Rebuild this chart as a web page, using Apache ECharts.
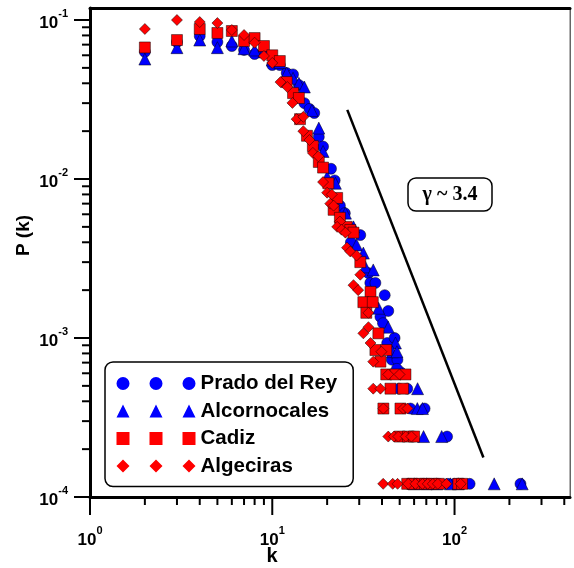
<!DOCTYPE html>
<html>
<head>
<meta charset="utf-8">
<script src="https://cdn.jsdelivr.net/npm/echarts@6/dist/echarts.min.js"></script>
<style>
  html, body { margin: 0; padding: 0; background: #fff; }
  #chart { width: 574px; height: 568px; }
</style>
</head>
<body>
<div id="chart"></div>
<script>
// degree k and P(k) per town
const pradoK = [2, 3, 4, 5, 6, 7, 8, 9, 10, 11, 12, 13, 14, 15, 16, 17, 18, 19, 21, 22, 23.5, 25, 27, 30.4, 33.7, 34.5, 36.8, 39.2, 40.5, 41.4, 43.3, 42.7, 46.9, 45.3, 48.6, 50.5, 48.3, 49.6, 55, 57.3, 68.5, 59.5, 91, 56, 62, 68, 75, 82, 92, 100, 110, 121, 230];
const pradoP = [0.063, 0.0727, 0.0793, 0.0727, 0.0686, 0.0648, 0.0611, 0.062, 0.0521, 0.0521, 0.0464, 0.0455, 0.039, 0.030, 0.0276, 0.026, 0.0184, 0.016, 0.0116, 0.0098, 0.0068, 0.0061, 0.0040, 0.00444, 0.00256, 0.00222, 0.00222, 0.00136, 0.00124, 0.00186, 0.00148, 0.00093, 0.0010, 0.00073, 0.00073, 0.00061, 0.00064, 0.00048, 0.00048, 0.00036, 0.00036, 0.00024, 0.00024, 0.000121, 0.000121, 0.000121, 0.000121, 0.000121, 0.000121, 0.000121, 0.000121, 0.000121, 0.000121];

const alcorK = [2, 3, 4, 5, 6, 7, 8, 9, 10, 11, 12, 13, 14, 15, 16.5, 18, 19, 20, 22.2, 25.2, 27.9, 29, 31.6, 32.4, 35.8, 38.3, 43.3, 47.4, 45.6, 48.3, 62.7, 62.5, 66.7, 67.6, 85, 60, 70, 80, 95, 105, 165, 235];
const alcorP = [0.0568, 0.067, 0.0748, 0.067, 0.0738, 0.066, 0.0648, 0.063, 0.056, 0.054, 0.0464, 0.043, 0.040, 0.0379, 0.027, 0.0209, 0.0149, 0.0103, 0.0094, 0.0061, 0.0050, 0.00385, 0.00342, 0.0028, 0.00268, 0.00154, 0.00117, 0.00093, 0.00082, 0.00082, 0.00048, 0.00036, 0.00036, 0.00024, 0.00024, 0.000121, 0.000121, 0.000121, 0.000121, 0.000121, 0.000121, 0.000121];

const cadizK = [2, 3, 4, 5, 6, 7, 8, 9, 10, 11, 12, 13, 14, 14.2, 15.5, 16.7, 18, 19, 20.3, 21.7, 22.7, 23.5, 25.6, 26.8, 27.9, 30.4, 34.6, 31.6, 35.6, 32.8, 38.2, 36.8, 42.2, 39.2, 42.2, 47.4, 53.8, 44.5, 52.2, 40.7, 50.5, 50, 55.5, 60, 55, 59, 64, 69, 75, 82, 105, 110];
const cadizP = [0.0672, 0.0748, 0.0878, 0.0829, 0.0853, 0.0738, 0.077, 0.0686, 0.060, 0.0552, 0.0407, 0.0347, 0.0323, 0.0238, 0.0187, 0.0161, 0.0128, 0.0118, 0.0094, 0.0064, 0.0076, 0.0057, 0.0050, 0.00478, 0.0046, 0.0030, 0.00195, 0.00168, 0.00168, 0.00144, 0.00107, 0.00084, 0.00084, 0.00071, 0.00059, 0.00059, 0.00059, 0.00048, 0.00048, 0.00036, 0.00036, 0.00024, 0.00024, 0.00024, 0.000121, 0.000121, 0.000121, 0.000121, 0.000121, 0.000121, 0.000121, 0.000121];

const algeK = [2, 3, 4, 5, 6, 7, 8, 9, 10, 11.1, 12.1, 12.9, 13.6, 14.8, 14.8, 16, 16.7, 17.9, 19, 20, 21.2, 20.8, 21.7, 23.5, 22.7, 24, 25.2, 25.7, 26.8, 29, 30.4, 27.9, 29.6, 33.7, 33.7, 31.6, 34.6, 39.7, 35.8, 43.3, 49.9, 35.8, 39.2, 40.7, 52.4, 55.2, 43.3, 46.5, 49.2, 54, 58, 40.6, 45.8, 48.7, 55.7, 61, 66.7, 71.3, 76, 81, 90.3, 108];
const algeP = [0.0878, 0.100, 0.0971, 0.0957, 0.0865, 0.0805, 0.072, 0.0594, 0.0537, 0.0407, 0.0379, 0.0301, 0.0238, 0.0246, 0.0200, 0.0176, 0.0146, 0.0139, 0.00957, 0.0082, 0.0080, 0.0070, 0.0068, 0.0054, 0.0050, 0.0048, 0.0046, 0.0037, 0.0035, 0.0033, 0.0025, 0.00215, 0.0020, 0.00144, 0.00117, 0.00107, 0.00093, 0.00082, 0.00071, 0.00059, 0.00059, 0.00048, 0.00048, 0.00036, 0.00036, 0.00036, 0.00024, 0.00024, 0.00024, 0.00024, 0.00024, 0.000121, 0.000121, 0.000121, 0.000121, 0.000121, 0.000121, 0.000121, 0.000121, 0.000121, 0.000121, 0.000121];

// guide line with slope label
const guideK = [25.8, 144];
const guideP = [0.0272, 0.000177];

// axis ticks (log decades + minor)
const xTicks = [1, 2, 3, 4, 5, 6, 7, 8, 9, 10, 20, 30, 40, 50, 60, 70, 80, 90, 100, 200, 300, 400];
const yTicks = [0.0001, 0.0002, 0.0003, 0.0004, 0.0005, 0.0006, 0.0007, 0.0008, 0.0009,
  0.001, 0.002, 0.003, 0.004, 0.005, 0.006, 0.007, 0.008, 0.009,
  0.01, 0.02, 0.03, 0.04, 0.05, 0.06, 0.07, 0.08, 0.09, 0.1];

const X_MIN = 1, X_MAX = 430, Y_MIN = 0.0001, Y_MAX = 0.119;
const FONT = '"Liberation Sans", Arial, sans-serif';

const pairs = (ks, ps) => ks.map((k, i) => [k, ps[i]]);
const isDecade = v => { const l = Math.log10(v); return Math.abs(l - Math.round(l)) < 1e-9; };

const expLabel = v => '{b|10}{e|' + Math.round(Math.log10(v)) + '}';
const labelRich = {
  b: { fontFamily: FONT, fontWeight: 'bold', fontSize: 17, color: '#000', lineHeight: 24, verticalAlign: 'bottom' },
  e: { fontFamily: FONT, fontWeight: 'bold', fontSize: 11, color: '#000', lineHeight: 12, verticalAlign: 'top' }
};

const circ = x => `M${x},6.5a6.5,6.5 0 1,0 13,0a6.5,6.5 0 1,0 -13,0Z`;
const tri = x => `M${x},13L${x + 6.5},0L${x + 13},13Z`;
const sq = x => `M${x},0h13v13h-13Z`;
const dia = x => `M${x + 6.5},0L${x + 13},6.5L${x + 6.5},13L${x},6.5Z`;
const triple = f => 'path://' + f(0) + ' ' + f(33) + ' ' + f(66);

var chartDom = document.getElementById('chart');
var myChart = echarts.init(chartDom);

const edge = { borderColor: 'rgba(0,0,0,0.6)', borderWidth: 0.8, opacity: 1 };

var option = {
  animation: false,
  backgroundColor: '#fff',
  grid: { left: 90, top: 8, right: 4, bottom: 71, show: true, borderColor: '#666', borderWidth: 1, outerBoundsMode: 'none', containLabel: false },
  legend: {
    orient: 'vertical', left: 105, top: 362,
    padding: [11, 16, 10, 11.5], itemGap: 6.5,
    itemWidth: 79, itemHeight: 13,
    borderColor: '#000', borderWidth: 1.5, borderRadius: 8, backgroundColor: '#fff',
    textStyle: { fontFamily: FONT, fontWeight: 'bold', fontSize: 20.5, color: '#000' },
    itemStyle: { borderWidth: 0 },
    data: [
      { name: 'Prado del Rey', icon: triple(circ) },
      { name: 'Alcornocales', icon: triple(tri) },
      { name: 'Cadiz', icon: triple(sq) },
      { name: 'Algeciras', icon: triple(dia) }
    ]
  },
  xAxis: [
    {
      type: 'log', logBase: 10, min: X_MIN, max: X_MAX,
      name: 'k', nameLocation: 'middle', nameGap: 49, nameMoveOverlap: false,
      nameTextStyle: { fontFamily: FONT, fontWeight: 'bold', fontSize: 20, color: '#000', padding: [0, 116, 0, 0] },
      axisLine: { onZero: false, lineStyle: { color: '#000', width: 3 } },
      axisTick: { show: false },
      splitLine: { show: false },
      axisLabel: { margin: 28, showMaxLabel: false, formatter: expLabel, rich: labelRich }
    },
    {
      type: 'log', logBase: 10, min: X_MIN, max: X_MAX, position: 'top',
      axisLine: { onZero: false, lineStyle: { color: '#000', width: 3 } },
      axisTick: { show: false }, axisLabel: { show: false }, splitLine: { show: false }
    }
  ],
  yAxis: [
    {
      type: 'log', logBase: 10, min: Y_MIN, max: Y_MAX,
      name: 'P (k)', nameLocation: 'middle', nameGap: 57, nameMoveOverlap: false,
      nameTextStyle: { fontFamily: FONT, fontWeight: 'bold', fontSize: 19, color: '#000', padding: [0, 0, 0, 34] },
      axisLine: { onZero: false, lineStyle: { color: '#000', width: 3 } },
      axisTick: { show: false },
      splitLine: { show: false },
      axisLabel: { margin: 22, showMaxLabel: false, formatter: expLabel, rich: labelRich }
    },
    {
      type: 'log', logBase: 10, min: Y_MIN, max: Y_MAX, position: 'right',
      axisLine: { onZero: false, lineStyle: { color: '#666', width: 1 } },
      axisTick: { show: false }, axisLabel: { show: false }, splitLine: { show: false }
    }
  ],
  graphic: [
    {
      type: 'rect', shape: { x: 408, y: 178, width: 84, height: 33, r: 8 },
      style: { fill: '#fff', stroke: '#000', lineWidth: 1.5 }, z: 10
    },
    {
      type: 'text', x: 450, y: 195, z: 11,
      style: { text: 'γ ~ 3.4', font: 'bold 20px "Liberation Serif", "Times New Roman", serif', fill: '#000',
        align: 'center', verticalAlign: 'middle', textAlign: 'center', textVerticalAlign: 'middle' }
    }
  ],
  series: [
    {
      name: 'Prado del Rey', type: 'scatter', symbol: 'circle', symbolSize: 11,
      itemStyle: Object.assign({ color: '#0000ff' }, edge),
      data: pairs(pradoK, pradoP)
    },
    {
      name: 'Alcornocales', type: 'scatter', symbol: 'triangle', symbolSize: 12,
      itemStyle: Object.assign({ color: '#0000ff' }, edge),
      data: pairs(alcorK, alcorP)
    },
    {
      name: 'Cadiz', type: 'scatter', symbol: 'rect', symbolSize: 11,
      itemStyle: Object.assign({ color: '#ff0000' }, edge),
      data: pairs(cadizK, cadizP)
    },
    {
      name: 'Algeciras', type: 'scatter', symbol: 'diamond', symbolSize: 11,
      itemStyle: Object.assign({ color: '#ff0000' }, edge),
      data: pairs(algeK, algeP)
    },
    {
      name: 'guide', type: 'line', symbol: 'none', silent: true,
      lineStyle: { color: '#000', width: 2.5 },
      data: pairs(guideK, guideP)
    },
    {
      name: 'xticks', type: 'custom', silent: true, clip: false,
      data: xTicks.map(v => [v, Y_MIN]),
      renderItem: (params, api) => {
        const v = api.value(0);
        const p = api.coord([v, Y_MIN]);
        const len = isDecade(v) ? 18 : 8;
        return { type: 'line', shape: { x1: p[0], y1: p[1], x2: p[0], y2: p[1] + len }, style: { stroke: '#000', lineWidth: 2 } };
      }
    },
    {
      name: 'yticks', type: 'custom', silent: true, clip: false,
      data: yTicks.map(v => [X_MIN, v]),
      renderItem: (params, api) => {
        const v = api.value(1);
        const p = api.coord([X_MIN, v]);
        const len = isDecade(v) ? 16 : 8;
        return { type: 'line', shape: { x1: p[0], y1: p[1], x2: p[0] - len, y2: p[1] }, style: { stroke: '#000', lineWidth: 2 } };
      }
    }
  ]
};

option && myChart.setOption(option);
</script>
</body>
</html>
